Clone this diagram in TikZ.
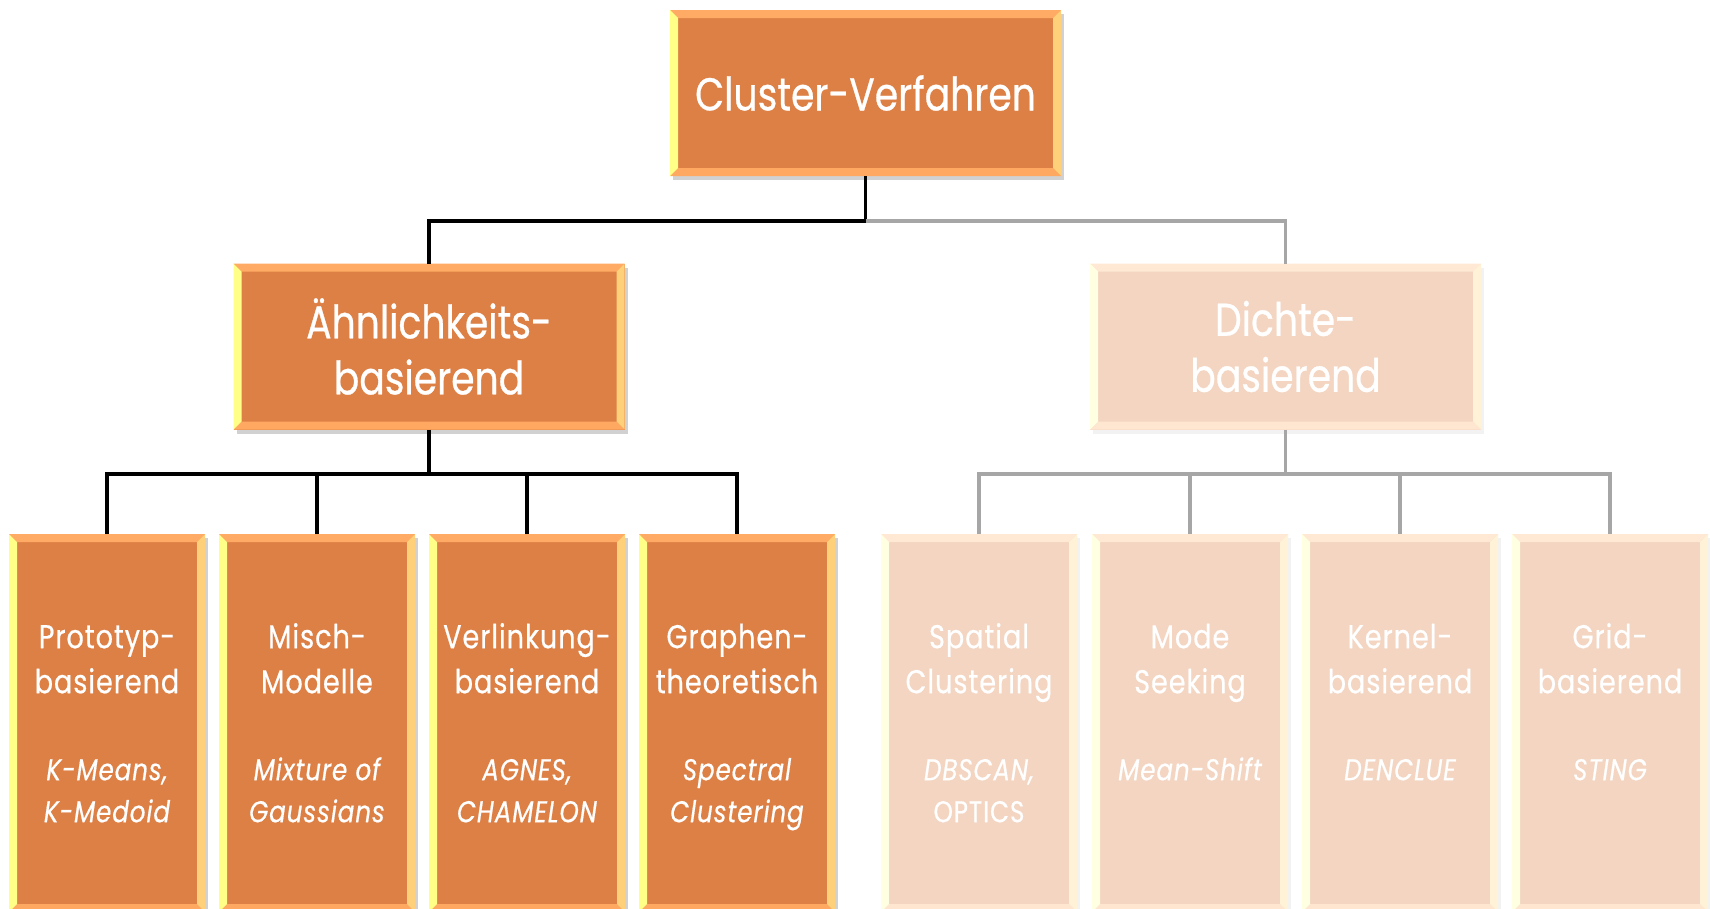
\documentclass[tikz,border=0pt]{standalone}
\usepackage{fontspec}
\setmainfont{Poppins}[FakeStretch=0.82,FakeBold=0.6]
\newfontfamily\leaffont{Poppins}[FakeStretch=0.82,FakeBold=0.5,LetterSpace=3]
\usetikzlibrary{shadows}
\definecolor{dfill}{RGB}{221,128,69}
\definecolor{dtop}{RGB}{255,171,101}
\definecolor{dleft}{RGB}{255,255,136}
\definecolor{dright}{RGB}{255,208,122}
\definecolor{dbot}{RGB}{255,168,98}
\definecolor{lfill}{RGB}{243,213,193}
\definecolor{ltop}{RGB}{255,232,212}
\definecolor{lleft}{RGB}{255,255,226}
\definecolor{lright}{RGB}{255,242,214}
\definecolor{lbot}{RGB}{255,230,208}
\definecolor{gline}{RGB}{166,166,166}
\newcommand\bevel[2]{%
  \fill[#2top] (#1.north west) -- (#1.north east) -- ([shift={(-8pt,-8pt)}]#1.north east) -- ([shift={(8pt,-8pt)}]#1.north west) -- cycle;
  \fill[#2bot] (#1.south west) -- (#1.south east) -- ([shift={(-8pt,8pt)}]#1.south east) -- ([shift={(8pt,8pt)}]#1.south west) -- cycle;
  \fill[#2left] (#1.north west) -- (#1.south west) -- ([shift={(8pt,8pt)}]#1.south west) -- ([shift={(8pt,-8pt)}]#1.north west) -- cycle;
  \fill[#2right] (#1.north east) -- (#1.south east) -- ([shift={(-8pt,8pt)}]#1.south east) -- ([shift={(-8pt,-8pt)}]#1.north east) -- cycle;
}
\newcommand\leafit[1]{{\fontsize{30}{42}\selectfont\itshape #1}}
\newcommand\leafup[1]{{\fontsize{30}{42}\selectfont #1}}
\tikzset{
  dbox/.style={rectangle, fill=dfill, inner sep=0pt, outer sep=0pt, text=white,
    drop shadow={shadow xshift=3pt,shadow yshift=-4pt,opacity=.18,fill=black}},
  lbox/.style={rectangle, fill=lfill, inner sep=0pt, outer sep=0pt, text=white,
    drop shadow={shadow xshift=3pt,shadow yshift=-4pt,opacity=.05,fill=black}},
  mainbox/.style={minimum width=391pt, minimum height=166pt, font=\fontsize{46}{56}\selectfont, align=center},
  leafbox/.style={minimum width=196pt, minimum height=378pt},
  leaftxt/.style={font=\leaffont\fontsize{33}{45}\selectfont, align=center, text=white, inner sep=0pt, anchor=north},
  blk/.style={line width=3.5pt, black},
  gry/.style={line width=3.5pt, gline},
}
\begin{document}
\begin{tikzpicture}[x=1pt,y=-1pt]
\useasboundingbox (0,0) rectangle (1710,908);
\clip (0,0) rectangle (1710,908);
% connectors
\coordinate (j1) at (865.5,221);
\coordinate (j2) at (429,474);
\coordinate (j3) at (1294.5,474);
% boxes
\node[dbox, mainbox] (root) at (865.5,93) {Cluster-Verfahren};
\node[dbox, mainbox] (ahn) at (429,346.5) {Ähnlichkeits-\\basierend};
\node[lbox, mainbox] (dic) at (1285.5,346.5) {Dichte-\\basierend};
\node[dbox, leafbox] (l1) at (107,723) {};
\node[dbox, leafbox] (l2) at (317,723) {};
\node[dbox, leafbox] (l3) at (527,723) {};
\node[dbox, leafbox] (l4) at (737,723) {};
\node[lbox, leafbox] (l5) at (979,723) {};
\node[lbox, leafbox] (l6) at (1190,723) {};
\node[lbox, leafbox] (l7) at (1400,723) {};
\node[lbox, leafbox] (l8) at (1610,723) {};
\bevel{root}{d}\bevel{ahn}{d}\bevel{dic}{l}
\bevel{l1}{d}\bevel{l2}{d}\bevel{l3}{d}\bevel{l4}{d}
\bevel{l5}{l}\bevel{l6}{l}\bevel{l7}{l}\bevel{l8}{l}
% lines
\draw[blk] (root.south) -- (j1) -| (ahn.north);
\draw[gry] (j1) -| (dic.north);
\draw[blk] (ahn.south) -- (j2);
\draw[blk] (l1.north) -- (l1.north |- j2) -- (l4.north |- j2) -- (l4.north);
\draw[blk] (l2.north) -- (l2.north |- j2);
\draw[blk] (l3.north) -- (l3.north |- j2);
\draw[gry] (dic.south) -- (dic.south |- j3);
\draw[gry] (l5.north) -- (l5.north |- j3) -- (l8.north |- j3) -- (l8.north);
\draw[gry] (l6.north) -- (l6.north |- j3);
\draw[gry] (l7.north) -- (l7.north |- j3);
% leaf texts
\node[leaftxt] (t1) at (107,622) {\rule{0pt}{26pt}Prototyp-\\basierend\\[42pt]\leafit{K-Means,}\\[-3pt]\leafit{K-Medoid}};
\node[leaftxt] (t2) at (317,622) {\rule{0pt}{26pt}Misch-\\Modelle\\[42pt]\leafit{Mixture of}\\[-3pt]\leafit{Gaussians}};
\node[leaftxt] (t3) at (527,622) {\rule{0pt}{26pt}Verlinkung-\\basierend\\[42pt]\leafit{AGNES,}\\[-3pt]\leafit{CHAMELON}};
\node[leaftxt] (t4) at (737,622) {\rule{0pt}{26pt}Graphen-\\theoretisch\\[42pt]\leafit{Spectral}\\[-3pt]\leafit{Clustering}};
\node[leaftxt] (t5) at (979,622) {\rule{0pt}{26pt}Spatial\\Clustering\\[42pt]\leafit{DBSCAN,}\\[-3pt]\leafup{OPTICS}};
\node[leaftxt] (t6) at (1190,622) {\rule{0pt}{26pt}Mode\\Seeking\\[42pt]\leafit{Mean-Shift}};
\node[leaftxt] (t7) at (1400,622) {\rule{0pt}{26pt}Kernel-\\basierend\\[42pt]\leafit{DENCLUE}};
\node[leaftxt] (t8) at (1610,622) {\rule{0pt}{26pt}Grid-\\basierend\\[42pt]\leafit{STING}};
\end{tikzpicture}
\end{document}
